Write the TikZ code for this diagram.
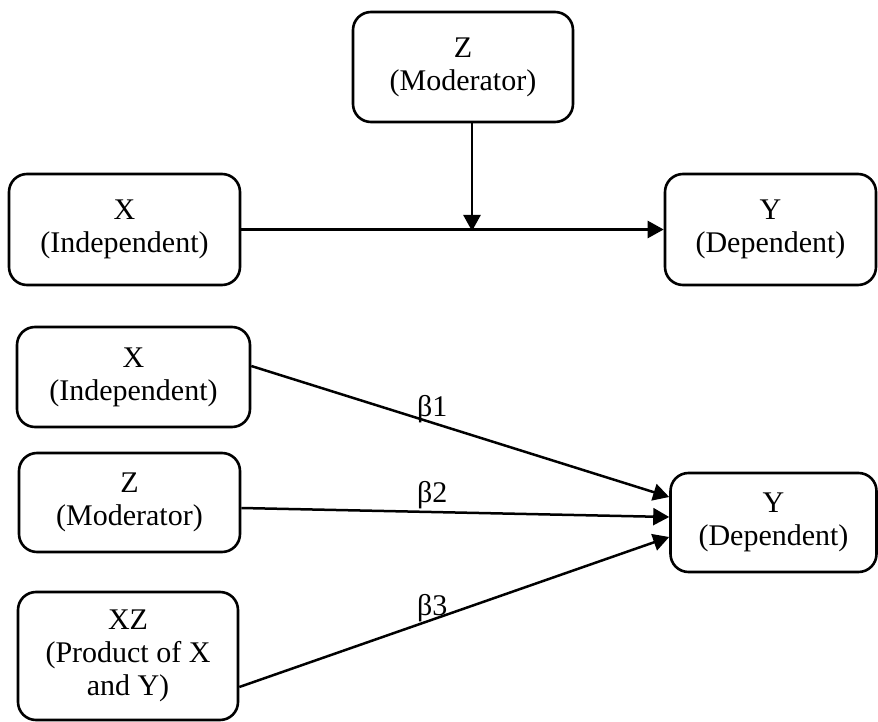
\documentclass[tikz,border=0pt]{standalone}
\usepackage{fontspec}
\setmainfont{Liberation Serif}
\usetikzlibrary{arrows.meta,calc}
\tikzset{
  box/.style={draw, line width=2.6pt, rounded corners=18pt, align=center,
    inner sep=0pt, font=\fontsize{30}{33}\selectfont},
  link/.style={line width=2.5pt, -{Triangle[length=16pt,width=17pt]}},
  coef/.style={anchor=base west, inner sep=0pt, font=\fontsize{30}{33}\selectfont}
}
\begin{document}
\begin{tikzpicture}[x=1pt,y=-1pt]
\useasboundingbox (0,0) rectangle (878,722);

% moderation model
\node[box, minimum width=220pt, minimum height=110pt] (Zt) at (463,67) {Z\\(Moderator)};
\node[box, minimum width=231pt, minimum height=111pt] (Xt) at (124.5,229.5) {X\\(Independent)};
\node[box, minimum width=211pt, minimum height=111pt] (Yt) at (770.5,229.5) {Y\\(Dependent)};
\coordinate (m) at (472,231);
\draw[link] (Xt.east) -- (Yt.west);
\draw[link] (m |- Zt.south) -- (m);

% regression model with interaction term
\node[box, minimum width=233pt, minimum height=100pt] (Xb) at (133.5,377) {X\\(Independent)};
\node[box, minimum width=221pt, minimum height=99pt] (Zb) at (129.5,502.5) {Z\\(Moderator)};
\node[box, minimum width=220pt, minimum height=128pt] (XZ) at (128,656) {XZ\\(Product of X\\and Y)};
\node[box, minimum width=206pt, minimum height=99pt] (Yb) at (773.5,522.5) {Y\\(Dependent)};

\draw[link] ([yshift=11pt]Xb.east) -- ([yshift=25.5pt]Yb.west);
\draw[link] ([yshift=-5.5pt]Zb.east) -- ([yshift=5.5pt]Yb.west);
\draw[link] ([yshift=-31pt]XZ.east) -- ([yshift=-14.5pt]Yb.west);

\node[coef] (b1) at (417,416) {β1};
\node[coef] (b2) at (417,502) {β2};
\node[coef] (b3) at (417,615) {β3};
\end{tikzpicture}
\end{document}
